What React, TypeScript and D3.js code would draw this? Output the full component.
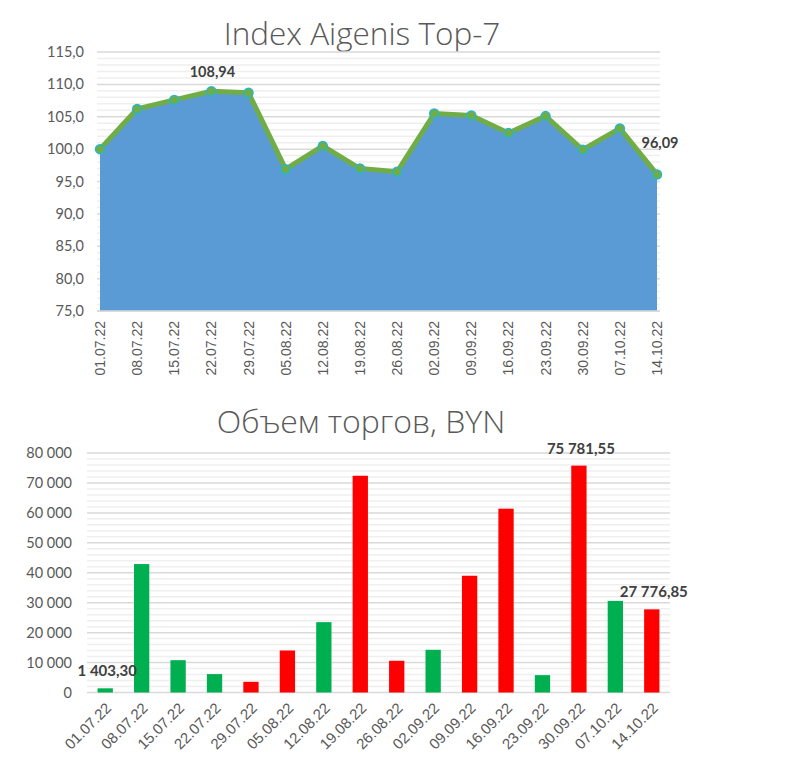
import React, { useEffect, useRef } from 'react';
import * as d3 from 'd3';

const dates = ['01.07.22', '08.07.22', '15.07.22', '22.07.22', '29.07.22', '05.08.22', '12.08.22', '19.08.22',
    '26.08.22', '02.09.22', '09.09.22', '16.09.22', '23.09.22', '30.09.22', '07.10.22', '14.10.22'];
const indexValues = [100, 106.2, 107.6, 108.94, 108.7, 96.9, 100.5, 97.0, 96.5, 105.5, 105.2, 102.5, 105.1, 99.9, 103.2, 96.09];
const indexLabelled = [3, 15];
const volumes = [1403.3, 42900, 10800, 6150, 3570, 14030, 23500, 72400, 10600, 14260, 39000, 61400, 5800, 75781.55, 30600, 27776.85];
const volumeUp = [true, true, true, true, false, false, true, false, false, true, false, false, true, false, true, false];
const volumeLabelled = [0, 13, 15];
const indexTicks = [75, 80, 85, 90, 95, 100, 105, 110, 115];
const volumeTicks = [0, 10000, 20000, 30000, 40000, 50000, 60000, 70000, 80000];

const locale = d3.formatLocale({ decimal: ',', thousands: ' ', grouping: [3], currency: ['', ''] });
const fmt1 = locale.format('.1f');
const fmt2 = locale.format(',.2f');
const fmtInt = locale.format(',.0f');

const TXT = '#595959';
const FONT = 'Lato, "Open Sans", sans-serif';

const App: React.FC = () => {
    const svgRef = useRef<SVGSVGElement>(null);

    useEffect(() => {
        if (!svgRef.current) return;
        const svg = d3.select(svgRef.current);
        svg.selectAll('*').remove();

        // ---------- Top: index area chart ----------
        const top = svg.append('g');
        const x1 = d3.scalePoint<string>().domain(dates).range([100, 657]);
        const y1 = d3.scaleLinear().domain([75, 115]).range([311, 52]);

        top.append('text')
            .attr('x', 362).attr('y', 45)
            .attr('text-anchor', 'middle')
            .attr('fill', TXT)
            .style('font-family', '"Open Sans", sans-serif')
            .style('font-weight', 300)
            .style('font-size', '31.5px')
            .text('Index Aigenis Top-7');

        // minor + major grid
        d3.range(75, 116, 1).forEach(v => {
            top.append('line')
                .attr('x1', 97).attr('x2', 660)
                .attr('y1', y1(v)).attr('y2', y1(v))
                .attr('stroke', v % 5 === 0 ? '#d9d9d9' : '#efefef')
                .attr('stroke-width', 1.5);
        });

        top.selectAll('.ytick')
            .data(indexTicks)
            .join('text')
            .attr('x', 84)
            .attr('y', d => y1(d) + 5)
            .attr('text-anchor', 'end')
            .attr('fill', TXT)
            .style('font-family', FONT)
            .style('font-size', '14.5px')
            .text(d => fmt1(d));

        const area = d3.area<number>()
            .x((_, i) => x1(dates[i])!)
            .y0(y1(75))
            .y1(d => y1(d));
        top.append('path')
            .datum(indexValues)
            .attr('d', area)
            .attr('fill', '#5b9bd5');

        top.append('line')
            .attr('x1', 97).attr('x2', 660)
            .attr('y1', y1(75)).attr('y2', y1(75))
            .attr('stroke', '#d9d9d9').attr('stroke-width', 1.5);

        const line = d3.line<number>()
            .x((_, i) => x1(dates[i])!)
            .y(d => y1(d));
        top.append('path')
            .datum(indexValues)
            .attr('d', line)
            .attr('fill', 'none')
            .attr('stroke', '#70ad47')
            .attr('stroke-width', 5)
            .attr('stroke-linejoin', 'round');

        top.selectAll('.marker')
            .data(indexValues)
            .join('circle')
            .attr('cx', (_, i) => x1(dates[i])!)
            .attr('cy', d => y1(d))
            .attr('r', 4.5)
            .attr('fill', '#70ad47')
            .attr('stroke', '#2bb5c9')
            .attr('stroke-width', 1.5);

        indexLabelled.forEach((i, k) => {
            top.append('text')
                .attr('x', x1(dates[i])! + (k === 1 ? 3 : 1))
                .attr('y', y1(indexValues[i]) - (k === 1 ? 26 : 14))
                .attr('text-anchor', 'middle')
                .attr('fill', '#404040')
                .style('font-family', FONT)
                .style('font-weight', 'bold')
                .style('font-size', '14.5px')
                .text(fmt2(indexValues[i]));
        });

        top.selectAll('.xlab')
            .data(dates)
            .join('text')
            .attr('transform', d => `translate(${x1(d)! + 5},321) rotate(-90)`)
            .attr('text-anchor', 'end')
            .attr('fill', TXT)
            .style('font-family', '"Liberation Sans", Arial, sans-serif')
            .style('font-size', '14px')
            .text(d => d);

        // ---------- Bottom: volume bars ----------
        const bot = svg.append('g');
        const x2 = d3.scaleBand<string>().domain(dates).range([87, 670]).paddingInner(0.58).paddingOuter(0.29);
        const y2 = d3.scaleLinear().domain([0, 80000]).range([692.5, 453]);

        bot.append('text')
            .attr('x', 361).attr('y', 433)
            .attr('text-anchor', 'middle')
            .attr('fill', TXT)
            .style('font-family', '"Open Sans", sans-serif')
            .style('font-weight', 300)
            .style('font-size', '32px')
            .text('Объем торгов, BYN');

        d3.range(0, 80001, 2000).forEach(v => {
            bot.append('line')
                .attr('x1', 87).attr('x2', 670)
                .attr('y1', y2(v)).attr('y2', y2(v))
                .attr('stroke', v % 10000 === 0 ? '#d9d9d9' : '#efefef')
                .attr('stroke-width', 1.5);
        });

        bot.selectAll('.ytick')
            .data(volumeTicks)
            .join('text')
            .attr('x', 72)
            .attr('y', d => y2(d) + 5)
            .attr('text-anchor', 'end')
            .attr('fill', TXT)
            .style('font-family', FONT)
            .style('font-size', '14.5px')
            .text(d => fmtInt(d));

        bot.selectAll('.bar')
            .data(volumes)
            .join('rect')
            .attr('x', (_, i) => x2(dates[i])!)
            .attr('y', d => y2(d))
            .attr('width', x2.bandwidth())
            .attr('height', d => y2(0) - y2(d))
            .attr('fill', (_, i) => volumeUp[i] ? '#00b050' : '#ff0000');

        volumeLabelled.forEach(i => {
            bot.append('text')
                .attr('x', x2(dates[i])! + x2.bandwidth() / 2 + 2)
                .attr('y', y2(volumes[i]) - 12)
                .attr('text-anchor', 'middle')
                .attr('fill', '#404040')
                .style('font-family', FONT)
                .style('font-weight', 'bold')
                .style('font-size', '15px')
                .text(fmt2(volumes[i]));
        });

        bot.selectAll('.xlab')
            .data(dates)
            .join('text')
            .attr('transform', d => `translate(${x2(d)! + x2.bandwidth() / 2 + 7},709) rotate(-45)`)
            .attr('text-anchor', 'end')
            .attr('fill', TXT)
            .style('font-family', '"Liberation Sans", Arial, sans-serif')
            .style('font-size', '15px')
            .text(d => d);
    }, []);

    return (
        <div style={{ position: 'absolute', left: 0, top: 0, width: 795, height: 781, background: '#fff' }}>
            <svg ref={svgRef} width={795} height={781} />
        </div>
    );
};

export default App;
